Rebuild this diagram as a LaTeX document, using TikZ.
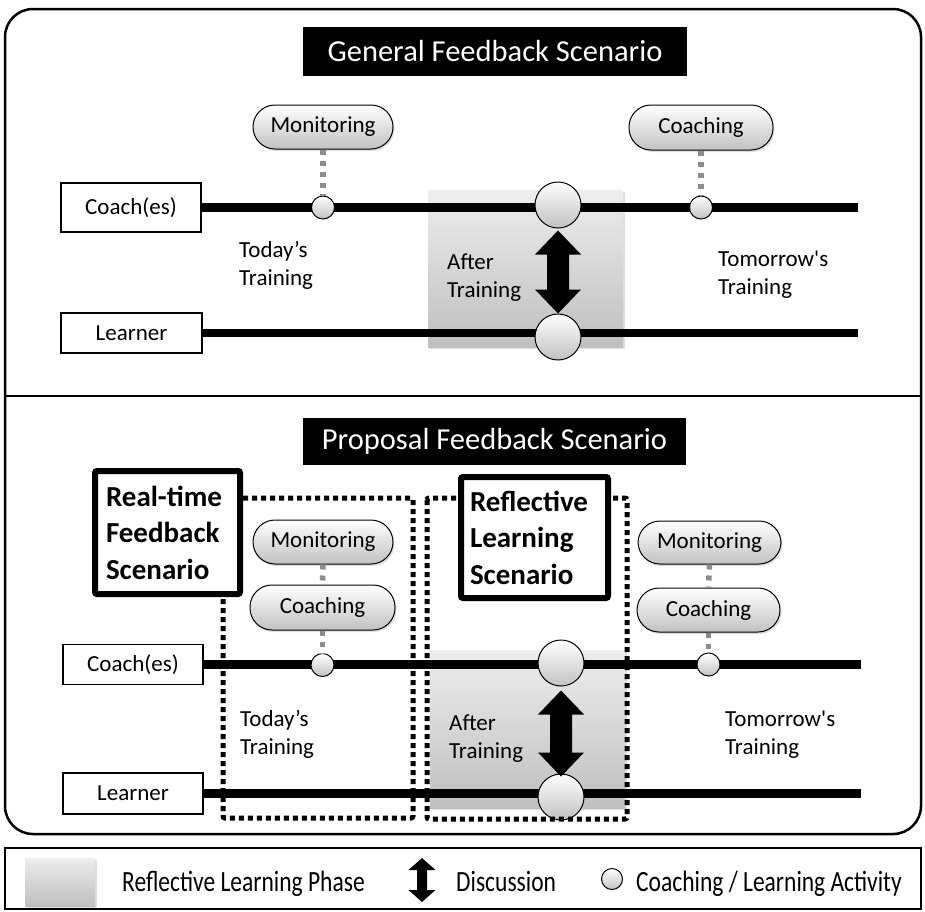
\documentclass[tikz,border=0pt]{standalone}
\usepackage{fontspec}
\setmainfont{Carlito}[Ligatures=TeXOff]
\usetikzlibrary{shadows,calc}
\begin{document}
\begin{tikzpicture}[x=1pt,y=-1pt,
  lbl/.style={font=\fontsize{23}{28}\selectfont, inner sep=0pt, align=left, anchor=west},
  namebox/.style={draw, line width=1.5pt, fill=white, font=\fontsize{23}{28}\selectfont, inner sep=0pt},
  pill/.style={draw, line width=1pt, rounded corners=22pt, top color=white, bottom color=black!24,
    minimum width=142pt, minimum height=44pt, inner sep=0pt, font=\fontsize{23}{28}\selectfont,
    drop shadow={shadow xshift=1.5pt, shadow yshift=-2pt, opacity=0.25}},
  actdot/.style={circle, draw, line width=1pt, top color=white, bottom color=black!24, inner sep=0pt, minimum size=23pt},
  bigdot/.style={actdot, minimum size=46pt},
  tl/.style={line width=8.5pt},
  gconn/.style={draw=black!45, line width=5.5pt, dash pattern=on 5pt off 6pt},
  dbox/.style={line width=5pt, dash pattern=on 5pt off 4pt, rounded corners=2pt},
  phase/.style={top color=black!7, bottom color=black!25, inner sep=0pt,
    drop shadow={shadow xshift=2pt, shadow yshift=-2pt, opacity=0.25}},
  boldbox/.style={draw, line width=6pt, fill=white, rounded corners=2pt, align=left,
    font=\fontsize{29}{36.5}\selectfont\bfseries, inner xsep=11pt, inner ysep=0pt},
  titlebox/.style={fill=black, text=white, font=\fontsize{30.5}{36}\selectfont, inner sep=0pt},
  legtext/.style={font=\fontsize{23.5}{28}\selectfont, inner sep=0pt, anchor=base west}
]
\useasboundingbox (0,0) rectangle (925,911);

% frames
\draw[line width=2.5pt, rounded corners=28pt] (5,9) rectangle (921,834);
\draw[line width=2pt] (5,396) -- (921,396);
\draw[line width=2pt] (5,848) rectangle (921,909);

% ===== top section =====
\node[phase, minimum width=195pt, minimum height=157pt] (phaseA) at (525.5,268.5) {};
\node[namebox, minimum width=140pt, minimum height=49pt] (coachA) at (131,207.5) {Coach(es)};
\node[namebox, minimum width=141pt, minimum height=40pt] (learnA) at (131.5,333) {Learner};
\coordinate (coachAend) at (858,207.5);
\coordinate (learnAend) at (858,333);
\draw[tl] (coachA.east) -- (coachAend);
\draw[tl] (learnA.east) -- (learnAend);
\node[actdot] (sdA1) at (323,207.5) {};
\node[actdot] (sdA2) at (701,207.5) {};
\node[bigdot] (bigA1) at (558,205) {};
\node[bigdot] (bigA2) at (558,337) {};
\node[pill, minimum width=140pt] (monA) at (323,127) {Monitoring};
\node[pill, minimum width=144pt, minimum height=45pt] (coA) at (701,127.5) {Coaching};
\draw[gconn] (monA.south) -- (sdA1.north);
\draw[gconn] (coA.south) -- (sdA2.north);
\fill let \p1=(bigA1.south), \p2=(bigA2.north) in
  (\x2,\y1-2pt) -- (\x2+23pt,\y1-26pt) -- (\x2+11pt,\y1-26pt) -- (\x2+11pt,\y2+24pt)
  -- (\x2+23pt,\y2+24pt) -- (\x2,\y2) -- (\x2-23pt,\y2+24pt) -- (\x2-11pt,\y2+24pt)
  -- (\x2-11pt,\y1-26pt) -- (\x2-23pt,\y1-26pt) -- cycle;
\node[lbl] (todayA) at (239,265) {Today’s\\Training};
\node[lbl] (afterA) at (447,277.5) {After\\Training};
\node[lbl] (tomA) at (718,275) {Tomorrow's\\Training};
\node[titlebox, minimum width=384pt, minimum height=49pt] (titleA) at (495,51.5) {General Feedback Scenario};

% ===== bottom section =====
\node[phase, minimum width=195pt, minimum height=158pt] (phaseB) at (527.5,729) {};
\node[namebox, minimum width=140pt, minimum height=40pt] (coachB) at (133,664.5) {Coach(es)};
\node[namebox, minimum width=140pt, minimum height=41pt] (learnB) at (133,793.5) {Learner};
\coordinate (coachBend) at (861,664.5);
\coordinate (learnBend) at (861,793.5);
\draw[tl] (coachB.east) -- (coachBend);
\draw[tl] (learnB.east) -- (learnBend);
\node[actdot] (sdB1) at (322.5,665) {};
\node[actdot] (sdB2) at (708.5,664.5) {};
\node[bigdot] (bigB1) at (561,663) {};
\node[bigdot] (bigB2) at (561,797) {};
\node[pill, minimum width=140pt] (monB) at (323,542) {Monitoring};
\node[pill, minimum width=145pt, minimum height=45pt] (coB) at (322.5,607.5) {Coaching};
\node[pill, minimum width=143pt, minimum height=43pt] (monC) at (709.5,542.5) {Monitoring};
\node[pill, minimum width=143pt, minimum height=44pt] (coC) at (708.5,610) {Coaching};
\draw[gconn] (monB.south) -- (coB.north);
\draw[gconn] (coB.south) -- (sdB1.north);
\draw[gconn] (monC.south) -- (coC.north);
\draw[gconn] (coC.south) -- (sdB2.north);
\fill let \p1=(bigB1.south), \p2=(bigB2.north) in
  (\x2,\y1-4pt) -- (\x2+23pt,\y1-28pt) -- (\x2+11pt,\y1-28pt) -- (\x2+11pt,\y2+21pt)
  -- (\x2+23pt,\y2+21pt) -- (\x2,\y2-3pt) -- (\x2-23pt,\y2+21pt) -- (\x2-11pt,\y2+21pt)
  -- (\x2-11pt,\y1-28pt) -- (\x2-23pt,\y1-28pt) -- cycle;
\node[lbl] (todayB) at (240,734.5) {Today’s\\Training};
\node[lbl] (afterB) at (449,738.5) {After\\Training};
\node[lbl] (tomB) at (725,734.5) {Tomorrow's\\Training};

% dotted scenario frames
\draw[dbox] (223,498) rectangle (413,818);
\draw[dbox] (427,498) rectangle (627,819);
\node[boldbox, text width=123pt, minimum width=145pt, minimum height=123pt] (rtbox) at (167.5,532.5) {Real-time\\Feedback\\Scenario};
\node[boldbox, text width=129pt, inner xsep=9pt, minimum width=147pt, minimum height=121pt] (rlbox) at (534.5,537.5) {Reflective\\Learning\\Scenario};
\node[titlebox, minimum width=383pt, minimum height=47pt] (titleB) at (494.5,441.5) {Proposal Feedback Scenario};

% ===== legend =====
\node[phase, minimum width=70pt, minimum height=48pt] (legphase) at (60,882) {};
\node[legtext] (legphaseT) at (122,891) {\scalebox{1}[1.25]{Reflective Learning Phase}};
\fill (422,858) -- (435.5,870) -- (427,870) -- (427,890) -- (435.5,890) -- (422,902)
  -- (408.5,890) -- (417,890) -- (417,870) -- (408.5,870) -- cycle;
\node[legtext] (legdiscT) at (456,891) {\scalebox{1}[1.25]{Discussion}};
\node[actdot, minimum size=21pt] (legdot) at (612,879) {};
\node[legtext] (legdotT) at (636,891) {\scalebox{1}[1.25]{Coaching / Learning Activity}};
\end{tikzpicture}
\end{document}
